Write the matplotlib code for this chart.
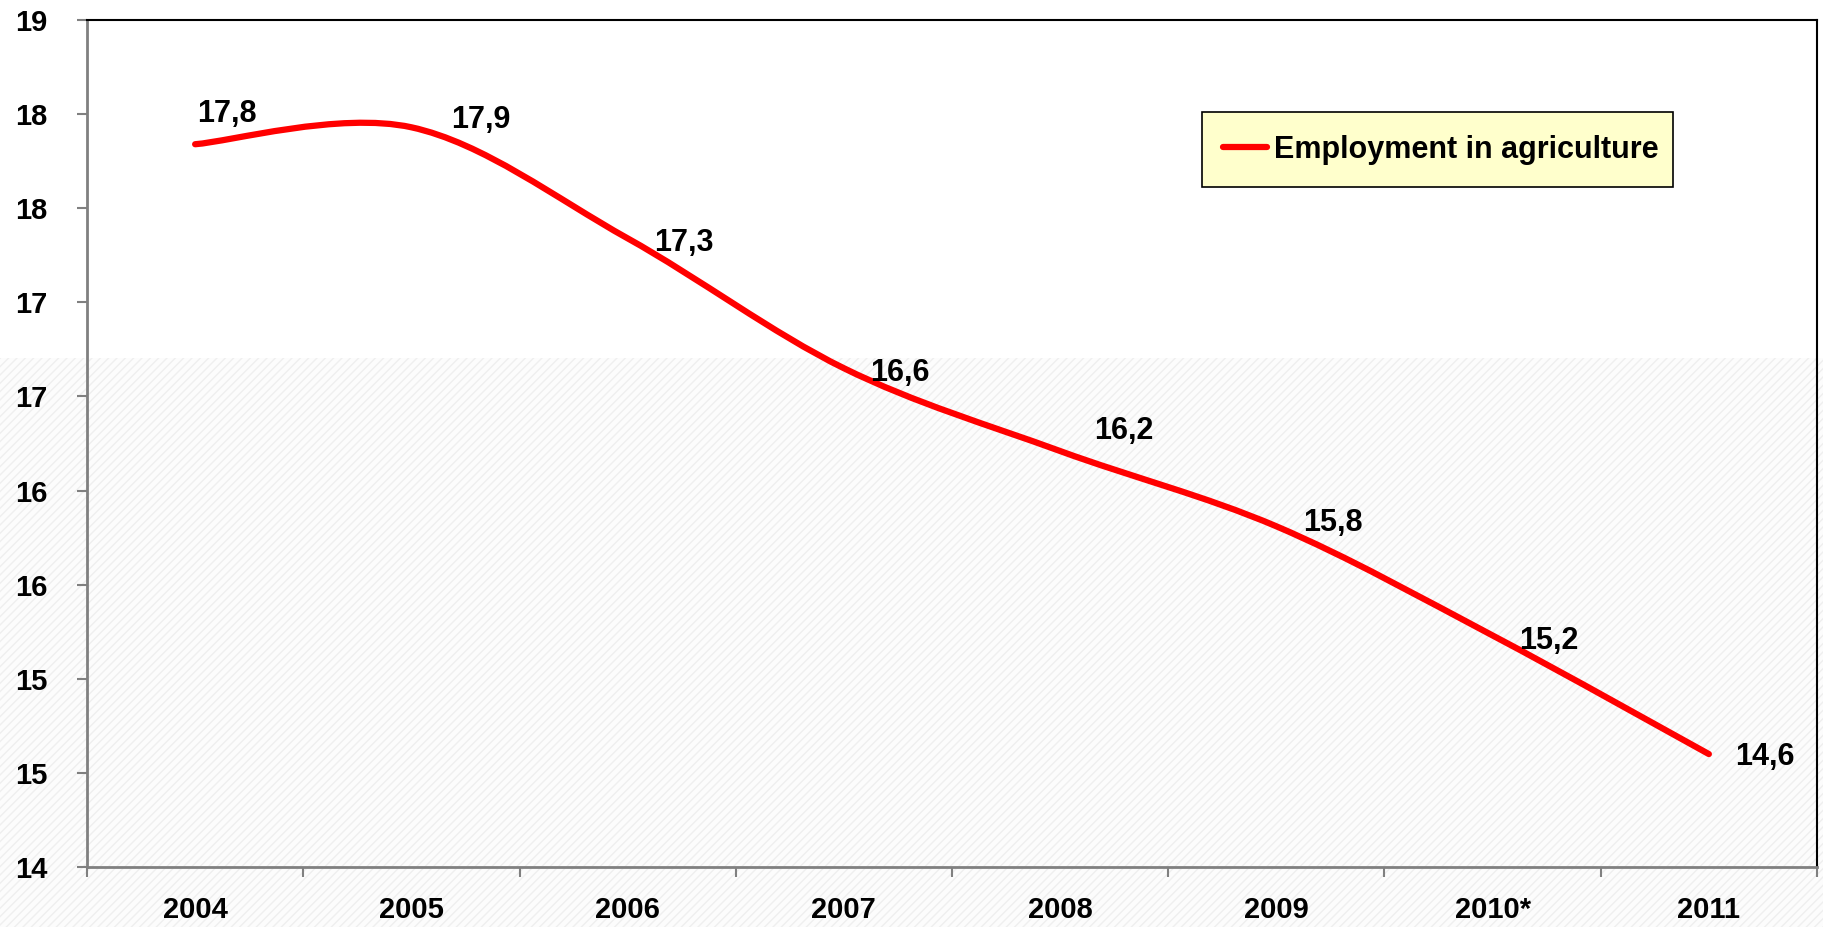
import numpy as np
import matplotlib
matplotlib.use("Agg")
import matplotlib.pyplot as plt
from matplotlib.path import Path
from matplotlib.patches import PathPatch, Rectangle
from matplotlib.lines import Line2D

plt.rcParams['font.family'] = ['Liberation Sans', 'DejaVu Sans']
plt.rcParams['font.weight'] = 'bold'

# data
years = ['2004', '2005', '2006', '2007', '2008', '2009', '2010*', '2011']
values = [17.84, 17.93, 17.34, 16.65, 16.21, 15.81, 15.23, 14.6]
labels = ['17,8', '17,9', '17,3', '16,6', '16,2', '15,8', '15,2', '14,6']
series_name = 'Employment in agriculture'

# label offsets (pixels, left edge of text vs. point)
lbl_dx = [2, 40, 26, 26, 34, 27, 27, 26]
lbl_dy = [30, 7, -5, -5, 20, 3, -6, -3]

fig = plt.figure(figsize=(18.24, 9.27), dpi=100, facecolor='white')

# faint hatched slide background on the lower part
bg = Rectangle((0, 0), 1, (927 - 358) / 927, transform=fig.transFigure,
               facecolor='#fcfcfc', edgecolor='#efefef', hatch='////',
               linewidth=0, zorder=-10)
fig.patches.append(bg)

ax = fig.add_axes([87 / 1824, 60 / 927, 1730 / 1824, 847 / 927])
ax.set_facecolor('none')

x = np.arange(len(values))
y = np.array(values)

# smoothed line like Excel (cubic bezier, catmull-rom control points)
pts = np.column_stack([x, y])
ext = np.vstack([pts[0], pts, pts[-1]])
verts = [tuple(pts[0])]
codes = [Path.MOVETO]
for i in range(len(pts) - 1):
    p0, p1, p2, p3 = ext[i], ext[i + 1], ext[i + 2], ext[i + 3]
    c1 = p1 + (p2 - p0) / 6
    c2 = p2 - (p3 - p1) / 6
    verts += [tuple(c1), tuple(c2), tuple(p2)]
    codes += [Path.CURVE4] * 3
ax.add_patch(PathPatch(Path(verts, codes), fill=False, edgecolor='#ff0000',
                       linewidth=4.5, capstyle='round', joinstyle='round', zorder=3))

# data labels
for i, v in enumerate(values):
    ax.annotate(labels[i], (x[i], v), xytext=(lbl_dx[i], lbl_dy[i]),
                textcoords='offset pixels', ha='left', va='center',
                fontsize=22, fontweight='bold', color='black', zorder=4)

ax.set_xlim(-0.5, len(values) - 0.5)
ax.set_ylim(14, 18.5)

yt = np.arange(14, 18.51, 0.5)
ax.set_yticks(yt)
ax.set_yticklabels([str(int(np.floor(t + 0.5))) for t in yt])

ax.set_xticks(np.arange(-0.5, len(values), 1))
ax.set_xticklabels([])
ax.set_xticks(x, minor=True)
ax.set_xticklabels(years, minor=True)

ax.tick_params(axis='y', direction='out', length=10 / 1.389, width=1.5,
               color='#808080', pad=21, labelsize=21)
ax.tick_params(axis='x', which='major', direction='out', length=10 / 1.389,
               width=1.5, color='#808080')
ax.tick_params(axis='x', which='minor', length=0, pad=21, labelsize=21)

ax.spines['left'].set_color('#808080')
ax.spines['bottom'].set_color('#808080')
ax.spines['left'].set_linewidth(2)
ax.spines['bottom'].set_linewidth(2)
ax.spines['top'].set_color('black')
ax.spines['right'].set_color('black')
ax.spines['top'].set_linewidth(1.5)
ax.spines['right'].set_linewidth(1.5)

# legend box (yellow, drawn behind the legend entries)
ax.add_patch(Rectangle((0.6445, 0.8028), 0.2723, 0.0886, transform=ax.transAxes,
                       facecolor='#ffffcc', edgecolor='black', linewidth=1.2,
                       zorder=4.5, clip_on=False))
handle = Line2D([], [], color='#ff0000', linewidth=4.5, solid_capstyle='round')
leg = ax.legend([handle], [series_name], loc='center left',
                bbox_to_anchor=(0.6566, 0.8465), borderaxespad=0, borderpad=0,
                prop={'size': 22, 'weight': 'bold'}, frameon=False,
                handlelength=1.44, handletextpad=0.22)
leg.set_zorder(5)

fig.savefig('out.png', dpi=100)
